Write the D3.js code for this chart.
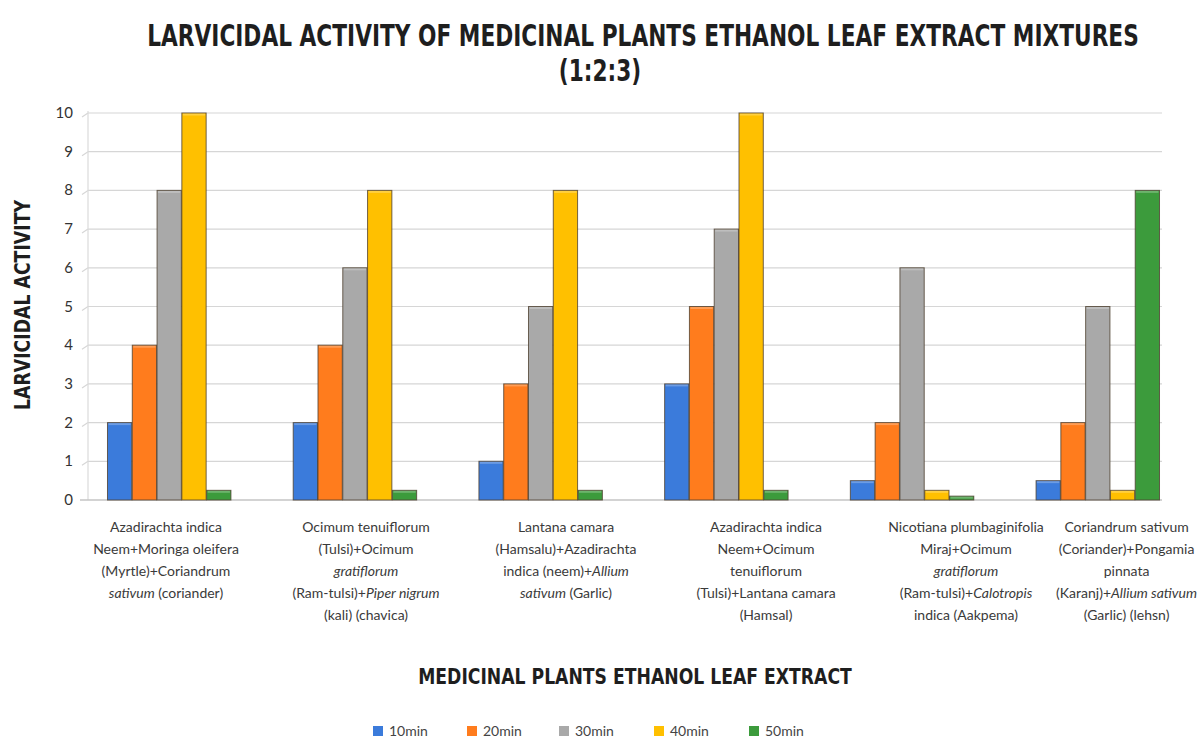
<!DOCTYPE html>
<html>
<head>
    <meta charset="utf-8">
    <title>Larvicidal activity</title>
    <script src="https://d3js.org/d3.v7.min.js"></script>
    <style>
        body { margin: 0; background: #fff; }
        .cond { font-family: "Liberation Sans Narrow", "DejaVu Sans Condensed", "Roboto", sans-serif; font-weight: bold; fill: #1e1e1e; }
        .cat { font-family: "Lato", "Open Sans", sans-serif; font-size: 14px; fill: #3a3a3a; }
        .tick-label { font-family: "Lato", "Open Sans", sans-serif; font-size: 15px; fill: #333; }
        .legend-text { font-family: "Lato", "Open Sans", sans-serif; font-size: 14px; fill: #444; }
    </style>
</head>
<body>
<script>
    // data
    var series = ["10min", "20min", "30min", "40min", "50min"];
    var colors = ["#3b7bdb", "#ff7c1d", "#a9a9a9", "#ffc000", "#3c9b3c"];
    var categories = ["G1", "G2", "G3", "G4", "G5", "G6"];
    // label lines per category; words wrapped in _ are italic
    var catLabels = [
        ["Azadirachta indica", "Neem+Moringa oleifera", "(Myrtle)+Coriandrum", "_sativum_ (coriander)"],
        ["Ocimum tenuiflorum", "(Tulsi)+Ocimum", "_gratiflorum_", "(Ram-tulsi)+_Piper nigrum_", "(kali) (chavica)"],
        ["Lantana camara", "(Hamsalu)+Azadirachta", "indica (neem)+_Allium_", "_sativum_ (Garlic)"],
        ["Azadirachta indica", "Neem+Ocimum", "tenuiflorum", "(Tulsi)+Lantana camara", "(Hamsal)"],
        ["Nicotiana plumbaginifolia", "Miraj+Ocimum", "_gratiflorum_", "(Ram-tulsi)+_Calotropis_", "indica (Aakpema)"],
        ["Coriandrum sativum", "(Coriander)+Pongamia", "pinnata", "(Karanj)+_Allium sativum_", "(Garlic) (lehsn)"]
    ];
    var v10 = [2, 2, 1, 3, 0.5, 0.5];
    var v20 = [4, 4, 3, 5, 2, 2];
    var v30 = [8, 6, 5, 7, 6, 5];
    var v40 = [10, 8, 8, 10, 0.25, 0.25];
    var v50 = [0.25, 0.25, 0.25, 0.25, 0.1, 8];
    var yTicks = [0, 1, 2, 3, 4, 5, 6, 7, 8, 9, 10];

    var values = [v10, v20, v30, v40, v50];
    var W = 1200, H = 743;
    var plot = {left: 88, right: 1162, top: 113, bottom: 500};

    var svg = d3.select("body").append("svg")
        .attr("width", W)
        .attr("height", H);

    var y = d3.scaleLinear().domain([0, 10]).range([plot.bottom, plot.top]);
    var x0 = d3.scaleBand().domain(categories).range([107, 1160]).paddingInner(0.33).paddingOuter(0);
    var x1 = d3.scaleBand().domain(series).range([0, x0.bandwidth()]).padding(0.02);
    // label positions follow their own spacing in the picture
    var xl = d3.scalePoint().domain(categories).range([166, 1166]);

    // grid
    var grid = svg.append("g");
    yTicks.forEach(function(t) {
        if (t === 0) return;
        grid.append("line")
            .attr("x1", plot.left).attr("x2", plot.right)
            .attr("y1", y(t)).attr("y2", y(t))
            .attr("stroke", "#d6d6d6").attr("stroke-width", 1.2);
        grid.append("line")
            .attr("x1", plot.left - 6).attr("x2", plot.left)
            .attr("y1", y(t) + 4).attr("y2", y(t))
            .attr("stroke", "#d6d6d6").attr("stroke-width", 1.2);
    });
    grid.append("line")
        .attr("x1", plot.left).attr("x2", plot.left)
        .attr("y1", plot.top - 2).attr("y2", plot.bottom)
        .attr("stroke", "#dadada").attr("stroke-width", 1.2);
    grid.append("line")
        .attr("x1", plot.left - 8).attr("x2", plot.right)
        .attr("y1", plot.bottom).attr("y2", plot.bottom)
        .attr("stroke", "#c4c4c4").attr("stroke-width", 1.5);

    // y tick labels
    svg.append("g").selectAll("text")
        .data(yTicks)
        .enter().append("text")
        .attr("class", "tick-label")
        .attr("x", 73)
        .attr("y", function(d) { return y(d) + 5; })
        .attr("text-anchor", "end")
        .text(function(d) { return d; });

    // bars
    var groups = svg.append("g").selectAll("g")
        .data(categories)
        .enter().append("g")
        .attr("transform", function(d) { return "translate(" + x0(d) + ",0)"; });

    function rows(d, i) {
        return series.map(function(s, j) { return {s: s, j: j, v: values[j][i]}; });
    }

    groups.selectAll("rect")
        .data(rows)
        .enter().append("rect")
        .attr("x", function(d) { return x1(d.s); })
        .attr("y", function(d) { return y(d.v); })
        .attr("width", x1.bandwidth())
        .attr("height", function(d) { return y(0) - y(d.v); })
        .attr("fill", function(d) { return colors[d.j]; })
        .attr("stroke", "#4e4030")
        .attr("stroke-opacity", 0.8)
        .attr("stroke-width", 1);

    // top highlight to mimic the slight 3d cap
    groups.selectAll("line.cap")
        .data(rows)
        .enter().append("line")
        .attr("class", "cap")
        .attr("x1", function(d) { return x1(d.s) + 1; })
        .attr("x2", function(d) { return x1(d.s) + x1.bandwidth() - 1; })
        .attr("y1", function(d) { return y(d.v) + 1.5; })
        .attr("y2", function(d) { return y(d.v) + 1.5; })
        .attr("stroke", "#ffffff")
        .attr("stroke-opacity", 0.25)
        .attr("stroke-width", 2);

    // category labels
    var lab = svg.append("g").selectAll("text")
        .data(categories)
        .enter().append("text")
        .attr("class", "cat")
        .attr("text-anchor", "middle");

    lab.each(function(d, i) {
        var t = d3.select(this);
        catLabels[i].forEach(function(line, k) {
            var parts = line.split("_");
            var first = true;
            parts.forEach(function(p, m) {
                if (p === "") return;
                var ts = t.append("tspan").text(p);
                if (m % 2 === 1) ts.style("font-style", "italic");
                if (first) {
                    ts.attr("x", 0).attr("y", 532 + k * 22);
                    first = false;
                }
            });
        });
    });
    // place, keeping the last label inside the picture
    lab.each(function(d) {
        var bb = this.getBBox();
        var cx = Math.min(xl(d), W - bb.width / 2 - 3);
        d3.select(this).attr("transform", "translate(" + cx + ",0)");
    });

    // condensed heading: larger font squeezed horizontally to a target width
    function heading(cx, cy, rot, size, target, txt) {
        var g = svg.append("g");
        var t = g.append("text")
            .attr("class", "cond")
            .attr("text-anchor", "middle")
            .attr("font-size", size)
            .text(txt);
        var sx = target / t.node().getComputedTextLength();
        g.attr("transform", "translate(" + cx + "," + cy + ") rotate(" + rot + ") scale(" + sx + ",1)");
        return sx;
    }

    var sx = heading(643, 46, 0, 31, 992, "LARVICIDAL ACTIVITY OF MEDICINAL PLANTS ETHANOL LEAF EXTRACT MIXTURES");
    svg.append("g")
        .attr("transform", "translate(600,81) scale(" + sx + ",1)")
        .append("text")
        .attr("class", "cond")
        .attr("text-anchor", "middle")
        .attr("font-size", 31)
        .text("(1:2:3)");

    heading(30, 305, -90, 22, 210, "LARVICIDAL ACTIVITY");
    heading(635, 684, 0, 22, 434, "MEDICINAL PLANTS ETHANOL LEAF EXTRACT");

    // legend
    var legX = [373, 467, 559, 654, 749];
    var leg = svg.append("g").selectAll("g")
        .data(series)
        .enter().append("g")
        .attr("transform", function(d, i) { return "translate(" + legX[i] + ",726)"; });
    leg.append("rect")
        .attr("width", 10).attr("height", 10)
        .attr("fill", function(d, i) { return colors[i]; });
    leg.append("text")
        .attr("class", "legend-text")
        .attr("x", 16).attr("y", 10)
        .text(function(d) { return d; });
</script>
</body>
</html>
